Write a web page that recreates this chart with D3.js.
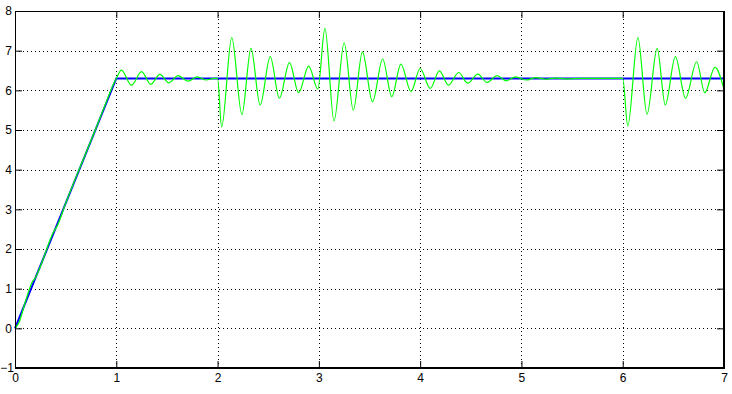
<!DOCTYPE html>
<html><head><meta charset="utf-8">
<script src="https://cdn.jsdelivr.net/npm/d3@7"></script>
<style>
html,body{margin:0;padding:0;background:#fff;}
svg{display:block;}
text{font-family:"Liberation Sans",Arial,sans-serif;font-size:12px;fill:#000;}
</style></head>
<body>
<svg id="c" width="732" height="394"></svg>
<script>
// x ticks and y ticks
const xTicks = [0,1,2,3,4,5,6,7];
const yTicks = [-1,0,1,2,3,4,5,6,7,8];

// reference signal (blue): ramp then constant
const refT = [0, 1, 7];
const refV = [0, 6.3, 6.3];

// response signal (green): times and values
const respT = [0,0.04,0.1,0.17,0.2,0.26,0.33,0.37,0.42,0.5,0.6,0.7,0.8,0.9,0.97,1.0,
  1.05,1.15,1.25,1.34,1.43,1.52,1.61,1.71,1.80,1.89,1.96,2.0,
  2.04,2.14,2.24,2.33,2.42,2.52,2.61,2.71,2.80,2.90,2.99,
  3.06,3.15,3.25,3.34,3.43,3.53,3.63,3.72,3.81,3.91,4.00,4.10,4.19,4.28,4.38,4.47,4.57,4.66,
  4.76,4.85,4.94,5.05,5.14,5.24,5.33,5.43,5.6,6.0,
  6.05,6.15,6.24,6.34,6.42,6.52,6.62,6.73,6.81,6.91,7.0];
const respV = [0,0.15,0.65,1.17,1.27,1.62,2.12,2.38,2.6,3.15,3.8,4.42,5.05,5.7,6.15,6.3,
  6.51,6.13,6.47,6.15,6.40,6.19,6.37,6.23,6.34,6.26,6.30,6.30,
  5.08,7.33,5.39,7.06,5.63,6.85,5.80,6.70,5.94,6.61,6.03,
  7.56,5.23,7.20,5.50,6.97,5.71,6.79,5.84,6.66,5.97,6.55,6.05,6.49,6.13,6.45,6.18,6.41,6.20,
  6.37,6.24,6.34,6.26,6.32,6.28,6.31,6.29,6.30,6.30,
  5.10,7.33,5.40,7.06,5.63,6.85,5.80,6.72,5.94,6.58,6.03];

const L = 15, T = 11, R = 724, B = 368;
const svg = d3.select("#c");
const x = d3.scaleLinear().domain([0,7]).range([L,R]);
const y = d3.scaleLinear().domain([-1,8]).range([B,T]);

// grid
const g = svg.append("g");
g.selectAll(".gx").data(xTicks.slice(1,-1)).enter().append("line")
  .attr("x1",d=>Math.round(x(d))+0.5).attr("x2",d=>Math.round(x(d))+0.5)
  .attr("y1",T).attr("y2",B)
  .attr("stroke","#000").attr("stroke-width",1).attr("stroke-dasharray","1,3");
g.selectAll(".gy").data(yTicks.slice(1,-1)).enter().append("line")
  .attr("y1",d=>Math.round(y(d))+0.5).attr("y2",d=>Math.round(y(d))+0.5)
  .attr("x1",L).attr("x2",R)
  .attr("stroke","#000").attr("stroke-width",1).attr("stroke-dasharray","1,3");

// lines
const refData = refT.map((t,i)=>[t,refV[i]]);
const respData = respT.map((t,i)=>[t,respV[i]]);
svg.append("path").datum(refData)
  .attr("d", d3.line().x(d=>x(d[0])).y(d=>y(d[1])))
  .attr("fill","none").attr("stroke","#0000ff").attr("stroke-width",2);
svg.append("path").datum(respData)
  .attr("d", d3.line().x(d=>x(d[0])).y(d=>y(d[1])).curve(d3.curveMonotoneX))
  .attr("fill","none").attr("stroke","#00ff00").attr("stroke-width",1.2);

// axes (inward ticks on all four sides)
const tl = 7;
svg.append("g").attr("transform",`translate(0,${B})`)
  .call(d3.axisBottom(x).tickValues(xTicks).tickSizeInner(-tl).tickSizeOuter(0).tickPadding(5).tickFormat(d3.format("d")))
  .call(a=>{a.select(".domain").remove();a.selectAll("text").attr("font-size",12).attr("font-family","Liberation Sans, Arial, sans-serif");});
svg.append("g").attr("transform",`translate(0,${T})`)
  .call(d3.axisTop(x).tickValues(xTicks).tickSizeInner(-tl).tickSizeOuter(0).tickFormat(""))
  .call(a=>a.select(".domain").remove());
svg.append("g").attr("transform",`translate(${L},0)`)
  .call(d3.axisLeft(y).tickValues(yTicks).tickSizeInner(-tl).tickSizeOuter(0).tickPadding(3).tickFormat(d3.format("d")))
  .call(a=>{a.select(".domain").remove();
    a.selectAll("text").attr("font-size",12).attr("font-family","Liberation Sans, Arial, sans-serif");
    a.selectAll(".tick").filter(d=>d<0).select("text").attr("x",-1);});
svg.append("g").attr("transform",`translate(${R},0)`)
  .call(d3.axisRight(y).tickValues(yTicks).tickSizeInner(-tl).tickSizeOuter(0).tickFormat(""))
  .call(a=>a.select(".domain").remove());

// box
svg.append("rect").attr("x",L+0.5).attr("y",T+0.5).attr("width",R-L-1).attr("height",B-T-1)
  .attr("fill","none").attr("stroke","#000").attr("stroke-width",1);
svg.append("line").attr("x1",L).attr("x2",R+1).attr("y1",B).attr("y2",B).attr("stroke","#000").attr("stroke-width",2);
svg.append("line").attr("x1",R).attr("x2",R).attr("y1",T).attr("y2",B).attr("stroke","#000").attr("stroke-width",2);
</script>
</body></html>
